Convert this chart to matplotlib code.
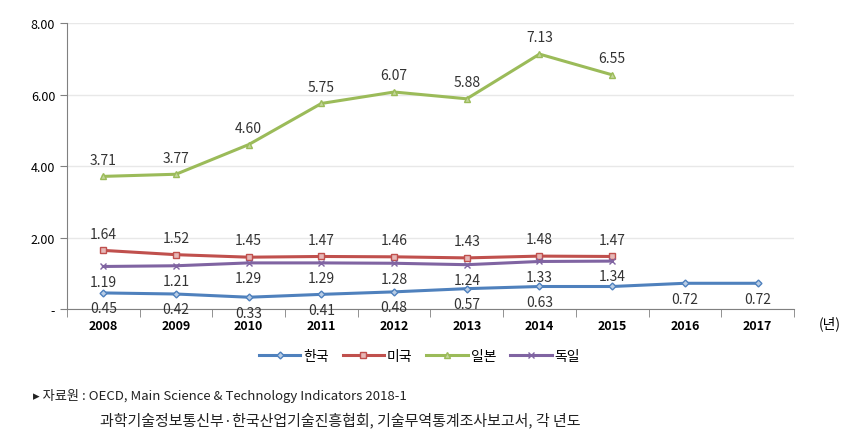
import numpy as np
import matplotlib.pyplot as plt

plt.rcParams['font.family'] = ['Noto Sans CJK KR', 'DejaVu Sans']

years = ['2008', '2009', '2010', '2011', '2012', '2013', '2014', '2015', '2016', '2017']
korea = [0.45, 0.42, 0.33, 0.41, 0.48, 0.57, 0.63, 0.63, 0.72, 0.72]
korea_labels = ['0.45', '0.42', '0.33', '0.41', '0.48', '0.57', '0.63', '', '0.72', '0.72']
usa = [1.64, 1.52, 1.45, 1.47, 1.46, 1.43, 1.48, 1.47]
japan = [3.71, 3.77, 4.60, 5.75, 6.07, 5.88, 7.13, 6.55]
germany = [1.19, 1.21, 1.29, 1.29, 1.28, 1.24, 1.33, 1.34]

fig = plt.figure(figsize=(8.62, 4.39), dpi=100)
ax = fig.add_axes([0.0777, 0.2938, 0.8433, 0.6515])

x = np.arange(len(years))
series = [
    ('한국', korea, '#4F81BD', 'D', 3.5, '#B9CDE5', korea_labels, 'below'),
    ('미국', usa, '#C0504D', 's', 5, '#E6B8B7', None, 'above'),
    ('일본', japan, '#9BBB59', '^', 5, '#C3D69B', None, 'above'),
    ('독일', germany, '#8064A2', 'x', 5, '#8064A2', None, 'below'),
]
for name, vals, col, mk, ms, fc, labs, pos in series:
    xs = x[:len(vals)]
    ax.plot(xs, vals, color=col, lw=2.2, marker=mk, markersize=ms,
            markerfacecolor=fc, markeredgecolor=col, markeredgewidth=1, label=name)
    if labs is None:
        labs = ['%.2f' % v for v in vals]
    for xi, v, t in zip(xs, vals, labs):
        if not t:
            continue
        if pos == 'above':
            ax.annotate(t, (xi, v), xytext=(0, 7), textcoords='offset points',
                        ha='center', va='bottom', fontsize=10, color='#333333')
        else:
            ax.annotate(t, (xi, v), xytext=(0, -6), textcoords='offset points',
                        ha='center', va='top', fontsize=10, color='#333333')

ax.set_xlim(-0.5, len(years) - 0.5)
ax.set_ylim(0, 8)
ax.set_yticks([0, 2, 4, 6, 8])
ax.set_yticklabels(['-', '2.00', '4.00', '6.00', '8.00'], fontsize=9)
ax.set_xticks(x)
ax.set_xticklabels(years, fontsize=9, fontweight='bold')
ax.set_xticks(np.arange(-0.5, len(years)), minor=True)
ax.tick_params(axis='x', which='major', length=0, pad=7)
ax.tick_params(axis='x', which='minor', length=6, color='#808080', direction='out')
ax.tick_params(axis='y', length=5, color='#808080', direction='out')
ax.grid(axis='y', color='#E8E8E8', lw=1)
ax.set_axisbelow(True)
for s in ['top', 'right']:
    ax.spines[s].set_visible(False)
for s in ['left', 'bottom']:
    ax.spines[s].set_color('#808080')

fig.text(0.963, 0.262, '(년)', fontsize=10, ha='center', va='center')

ax.legend(loc='upper center', bbox_to_anchor=(0.485, -0.095), ncol=4, frameon=False,
          fontsize=10, handlelength=3, columnspacing=1.0, handletextpad=0.2)

fig.text(0.038, 0.098, '▸ 자료원 : OECD, Main Science & Technology Indicators 2018-1',
         fontsize=9.5, ha='left', va='center', color='#222222')
fig.text(0.116, 0.043, '과학기술정보통신부·한국산업기술진흥협회, 기술무역통계조사보고서, 각 년도',
         fontsize=10.8, ha='left', va='center', color='#222222')

plt.savefig('out.png', dpi=100)
